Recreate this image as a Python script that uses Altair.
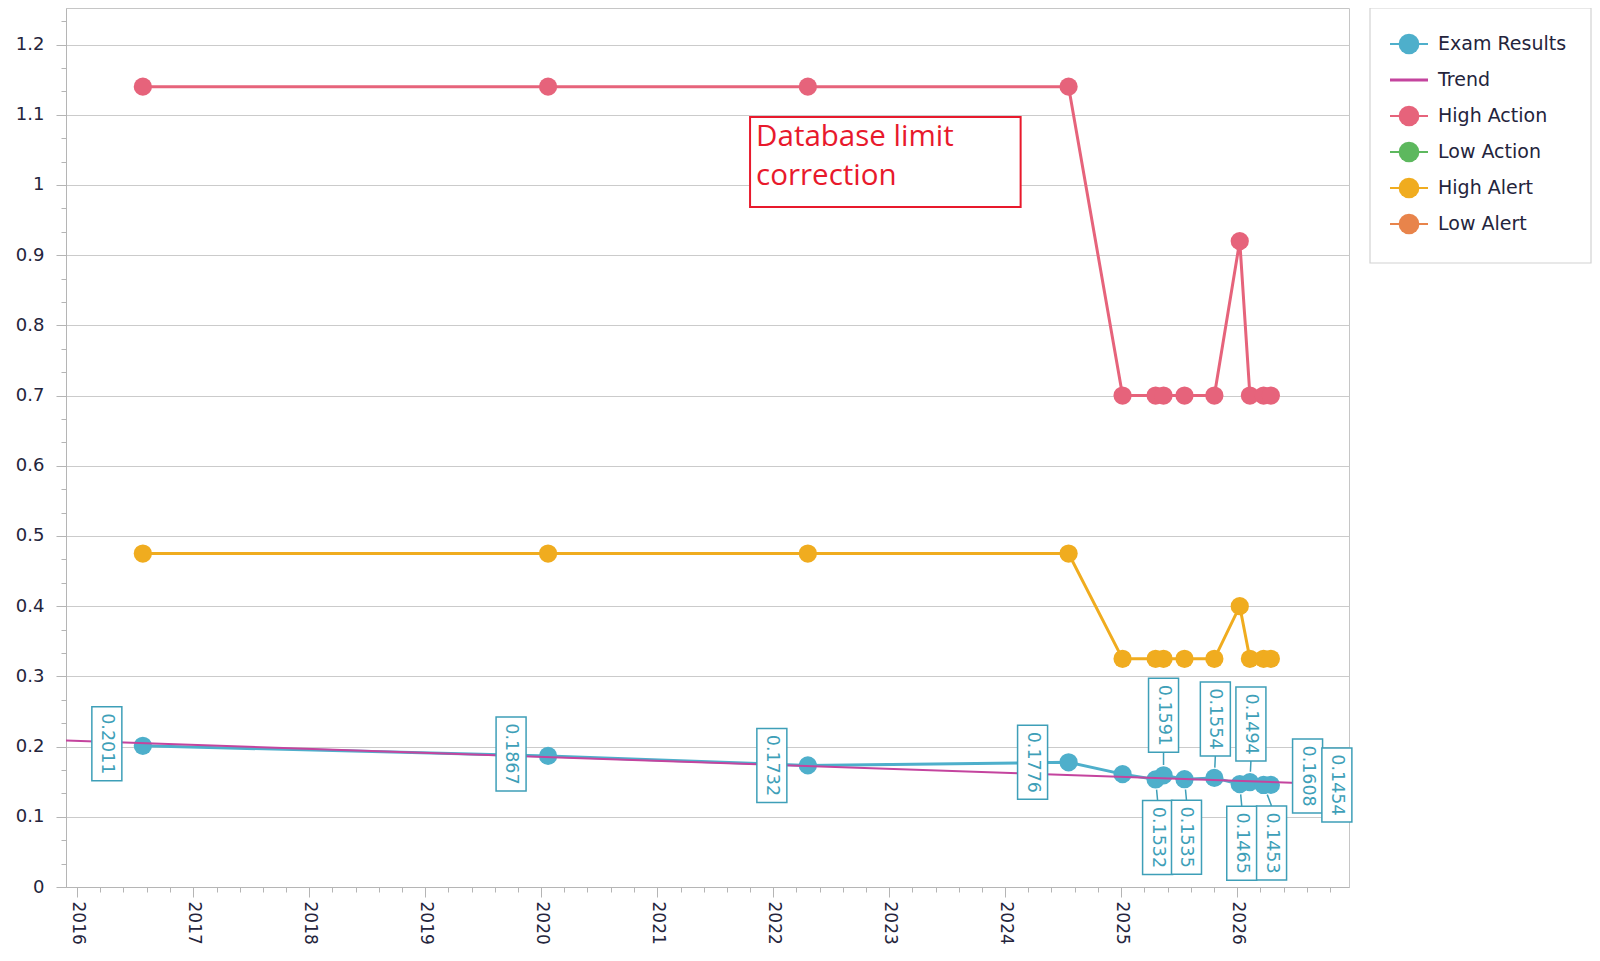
import altair as alt
import pandas as pd
import math
from datetime import datetime, timedelta

# ---------------- data ----------------
series_names = ["Exam Results", "Trend", "High Action", "Low Action", "High Alert", "Low Alert"]
series_colors = ["#4EAFCB", "#C4449E", "#E6637B", "#5DB85E", "#F0AC1F", "#E8844B"]
series_has_points = [True, False, True, True, True, True]

dates = ["2016-07-26", "2020-01-23", "2022-04-20", "2024-07-19", "2025-01-05",
         "2025-04-19", "2025-05-14", "2025-07-19", "2025-10-21", "2026-01-09",
         "2026-02-10", "2026-03-25", "2026-04-17"]
exam_results = [0.2011, 0.1867, 0.1732, 0.1776, 0.1608, 0.1532, 0.1591,
                0.1535, 0.1554, 0.1465, 0.1494, 0.1453, 0.1454]
high_action = [1.14, 1.14, 1.14, 1.14, 0.70, 0.70, 0.70, 0.70, 0.70, 0.92, 0.70, 0.70, 0.70]
high_alert = [0.475, 0.475, 0.475, 0.475, 0.325, 0.325, 0.325, 0.325, 0.325, 0.40, 0.325, 0.325, 0.325]

trend_dates = ["2015-11-27", "2026-12-19"]
trend_values = [0.2088, 0.1457]

year_ticks = list(range(2016, 2027))
y_ticks = [0, 0.1, 0.2, 0.3, 0.4, 0.5, 0.6, 0.7, 0.8, 0.9, 1.0, 1.1, 1.2]

annotation_text = "Database limit\ncorrection"
annotation_box_dates = ["2021-10-20", "2024-02-19"]
annotation_box_values = [1.0969, 0.9687]
annotation_text_date = "2021-11-08"
annotation_text_value = 1.055

# ---------------- layout / style ----------------
label_dx = [-36, -37, -36, -36, 185, 2, 0, 2, 1, 2, 1, 8, 66]
label_dy = [-2, -2, 0, 0, 2, 58, -60, 58, -59, 59, -58, 58, 0]
BOX_HW, BOX_HH = 15, 37
PT_R = 10.3

EXAM, TREND, HACT, LACT, HALT, LALT = series_colors
TEAL = "#3E9FB8"
RED = "#E8192C"
GRID = "#CBCBCB"
AXIS_GREY = "#B5B5B5"
INK = "#24243C"
W, H = 1283, 879
PT = round(math.pi * PT_R ** 2)

# legend layout (pixels relative to the plot's top-left corner)
LEG_X0, LEG_X1, LEG_Y0, LEG_Y1 = 1304, 1525, 0, 255
LEG_SYM_X, LEG_TXT_X, LEG_ROW0, LEG_ROW_STEP = 1343, 1372, 36, 36

x_scale = alt.Scale(domain=[alt.DateTime(year=2015, month=11, date=27),
                            alt.DateTime(year=2026, month=12, date=19)], nice=False)
y_scale = alt.Scale(domain=[0, 1.252], nice=False, zero=False)


def X(field="date", axis=None):
    return alt.X(f"{field}:T", scale=x_scale, axis=axis, title=None)


def Y(field="value", axis=None):
    return alt.Y(f"{field}:Q", scale=y_scale, axis=axis, title=None)


def label_path(dx, dy):
    p = f"M{dx - BOX_HW},{dy - BOX_HH}H{dx + BOX_HW}V{dy + BOX_HH}H{dx - BOX_HW}Z"
    if abs(dy) >= 30:
        edge = dy - BOX_HH if dy > 0 else dy + BOX_HH
        n = math.hypot(dx, edge)
        sx, sy = dx / n * PT_R, edge / n * PT_R
        p += f"M{sx:.2f},{sy:.2f}L{dx},{edge}"
    return p


exam_df = pd.DataFrame({
    "idx": list(range(len(dates))),
    "date": pd.to_datetime(dates),
    "value": exam_results,
    "label": [f"{v:.4f}" for v in exam_results],
})
action_df = pd.DataFrame({"date": pd.to_datetime(dates), "value": high_action})
alert_df = pd.DataFrame({"date": pd.to_datetime(dates), "value": high_alert})
trend_df = pd.DataFrame({"date": pd.to_datetime(trend_dates), "value": trend_values})
annot_df = pd.DataFrame({
    "date": [pd.Timestamp(annotation_box_dates[0])],
    "date2": [pd.Timestamp(annotation_box_dates[1])],
    "top": [annotation_box_values[0]],
    "bottom": [annotation_box_values[1]],
    "tdate": [pd.Timestamp(annotation_text_date)],
    "tval": [annotation_text_value],
    "text": [annotation_text],
})
legend_df = pd.DataFrame({"series": series_names, "color": series_colors})

# minor tick positions (5 per year on x, 3 per 0.1 on y)
minor_x = []
for yr in range(2015, 2027):
    start = datetime(yr, 1, 1)
    ndays = (datetime(yr + 1, 1, 1) - start).days
    for k in range(1, 5):
        d = start + timedelta(days=round(ndays * k / 5))
        if datetime(2015, 11, 27) <= d <= datetime(2026, 12, 19):
            minor_x.append(alt.DateTime(year=d.year, month=d.month, date=d.day))
minor_y = [round(k / 30, 6) for k in range(1, 38) if k % 3]

x_axis_main = alt.Axis(values=[alt.DateTime(year=y, month=1, date=1) for y in year_ticks],
                       format="%Y", labelAngle=90, labelFont="DejaVu Sans", labelFontSize=17,
                       labelColor=INK, labelPadding=4, tickSize=10, tickColor=AXIS_GREY,
                       domainColor=AXIS_GREY, grid=False, orient="bottom",
                       labelOverlap=False, labelFlush=False)
y_axis_main = alt.Axis(values=y_ticks, format="~g", labelFont="DejaVu Sans", labelFontSize=18,
                       labelColor=INK, labelPadding=12, tickSize=10, tickColor=AXIS_GREY,
                       domainColor=AXIS_GREY, grid=True, gridColor=GRID, orient="left",
                       labelOverlap=False, labelFlush=False)
x_axis_minor = alt.Axis(values=minor_x, labels=False, tickSize=5, tickColor=AXIS_GREY,
                        domain=False, grid=False, orient="bottom")
y_axis_minor = alt.Axis(values=minor_y, labels=False, tickSize=5, tickColor=AXIS_GREY,
                        domain=False, grid=False, orient="left")

# ---------------- layers ----------------
layers = []
layers.append(alt.Chart(exam_df).mark_line(color=EXAM, strokeWidth=3).encode(
    x=X(axis=x_axis_main), y=Y(axis=y_axis_main)))
layers.append(alt.Chart(exam_df).mark_point(filled=True, size=PT, color=EXAM, opacity=1).encode(
    x=X(), y=Y()))
layers.append(alt.Chart(action_df).mark_line(color=HACT, strokeWidth=3).encode(x=X(), y=Y()))
layers.append(alt.Chart(action_df).mark_point(filled=True, size=PT, color=HACT, opacity=1).encode(
    x=X(axis=x_axis_minor), y=Y(axis=y_axis_minor)))
layers.append(alt.Chart(alert_df).mark_line(color=HALT, strokeWidth=3).encode(x=X(), y=Y()))
layers.append(alt.Chart(alert_df).mark_point(filled=True, size=PT, color=HALT, opacity=1).encode(
    x=X(), y=Y()))
layers.append(alt.Chart(trend_df).mark_line(color=TREND, strokeWidth=2).encode(x=X(), y=Y()))

# value labels: box + connector symbol, then rotated text, one layer per label
for i, (dx, dy) in enumerate(zip(label_dx, label_dy)):
    sel = alt.Chart(exam_df).transform_filter(f"datum.idx == {i}")
    layers.append(sel.mark_point(
        shape=label_path(dx, dy), size=4, filled=True, fill="white",
        stroke=TEAL, strokeWidth=1.5, opacity=1
    ).encode(x=X(), y=Y()))
    layers.append(sel.mark_text(
        angle=90, align="center", baseline="middle", font="DejaVu Sans", fontSize=17.5,
        color=TEAL, xOffset=dx, yOffset=dy
    ).encode(x=X(), y=Y(), text="label:N"))

# annotation
layers.append(alt.Chart(annot_df).mark_rect(fill="white", stroke=RED, strokeWidth=2).encode(
    x=X("date"), x2="date2:T", y=Y("top"), y2="bottom:Q"))
layers.append(alt.Chart(annot_df).mark_text(
    align="left", baseline="alphabetic", lineBreak="\n", lineHeight=38.5,
    font="Open Sans", fontSize=29.5, color=RED
).encode(x=X("tdate"), y=Y("tval"), text="text:N"))

# legend (drawn as marks, outside the plot area)
leg_box = pd.DataFrame({"k": [0]})
layers.append(alt.Chart(leg_box).mark_rect(fill="white", stroke="#D2D2D2", strokeWidth=1.2).encode(
    x=alt.value(LEG_X0), x2=alt.value(LEG_X1), y=alt.value(LEG_Y0), y2=alt.value(LEG_Y1)))
for i, (name, col, has_pt) in enumerate(zip(series_names, series_colors, series_has_points)):
    row = alt.Chart(legend_df).transform_filter(alt.datum.series == name)
    ypos = LEG_ROW0 + i * LEG_ROW_STEP
    layers.append(row.mark_rule(color=col, strokeWidth=2 if has_pt else 3).encode(
        x=alt.value(LEG_SYM_X - 19), x2=alt.value(LEG_SYM_X + 19), y=alt.value(ypos)))
    if has_pt:
        layers.append(row.mark_point(filled=True, size=430, color=col, opacity=1).encode(
            x=alt.value(LEG_SYM_X), y=alt.value(ypos)))
    layers.append(row.mark_text(align="left", baseline="middle", font="DejaVu Sans",
                                fontSize=19, color=INK).encode(
        x=alt.value(LEG_TXT_X), y=alt.value(ypos), text="series:N"))

chart = alt.layer(*layers).resolve_axis(x="independent", y="independent").properties(
    width=W, height=H,
    autosize=alt.AutoSizeParams(type="none"),
    padding={"left": 58, "top": 0, "right": 243, "bottom": 58},
    background="white",
).configure_view(stroke="#C6C6C6", strokeWidth=1)

chart.save("out.html", embed_options={"renderer": "svg", "actions": False})
